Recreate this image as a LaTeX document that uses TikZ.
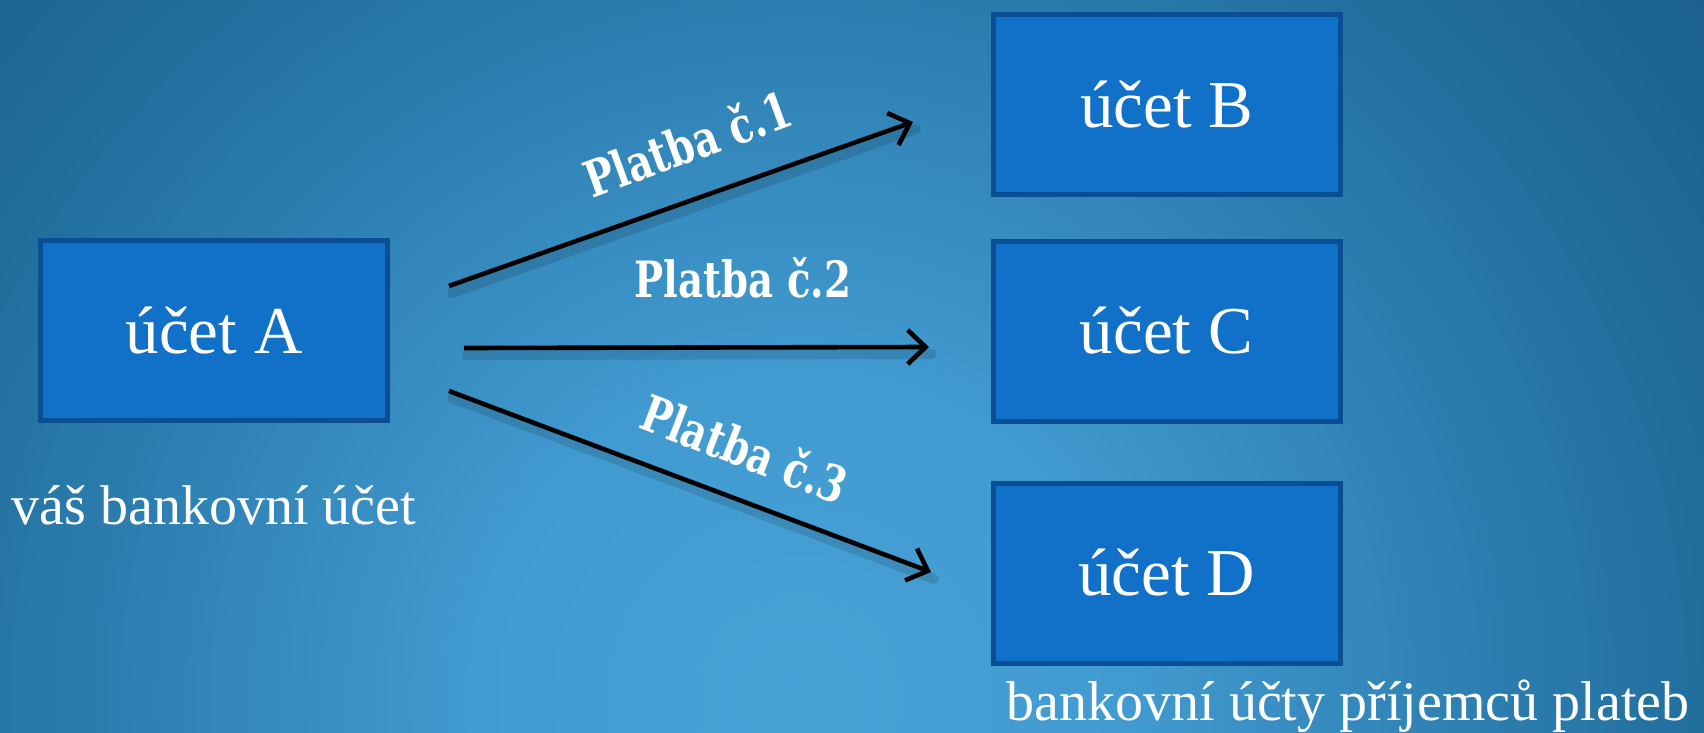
\documentclass[tikz,border=0pt]{standalone}
\usepackage{fontspec}
\setmainfont{Liberation Serif}
\newfontfamily\platfont[FakeStretch=0.86]{DejaVu Serif Condensed}
\usetikzlibrary{arrows.meta}
\definecolor{bgA}{HTML}{48A2D6}
\definecolor{bgB}{HTML}{419AD0}
\definecolor{bgC}{HTML}{2E80B2}
\definecolor{bgD}{HTML}{22709F}
\definecolor{bgE}{HTML}{1C6290}
\definecolor{bgF}{HTML}{1A5C88}
\definecolor{boxfill}{HTML}{1170C8}
\definecolor{boxline}{HTML}{0A4F94}
\pgfdeclareradialshading{bgshade}{\pgfpoint{0bp}{0bp}}{color(0bp)=(bgA); color(6.35bp)=(bgB); color(12.7bp)=(bgC); color(16.9bp)=(bgD); color(21.15bp)=(bgE); color(25bp)=(bgF); color(50bp)=(bgF)}
\tikzset{
  acct/.style={draw=boxline, fill=boxfill, line width=2.5pt, minimum width=173.5pt, minimum height=90pt, text=white, font=\fontsize{33.5}{40}\selectfont, inner sep=0pt},
  caption/.style={text=white, font=\fontsize{28}{34}\selectfont, inner sep=0pt, anchor=base},
  paylabel/.style={text=white, font=\platfont\bfseries\fontsize{25}{30}\selectfont, inner sep=0pt},
  payarrow/.style={draw=black, line width=2.3pt, -{Straight Barb[length=9pt,width=17pt,line width=2.3pt]}},
  payshadow/.style={draw=black, line width=5pt, opacity=0.12, line cap=round}
}
\begin{document}
\begin{tikzpicture}[x=0.5pt,y=-0.5pt]
\useasboundingbox (0,0) rectangle (1704,733);
\begin{scope}
\clip (0,0) rectangle (1704,733);
\fill[bgF] (0,0) rectangle (1704,733);
\shade[shading=bgshade] (800,700) circle (1300);
\end{scope}

\node[acct] (A) at (214,330.5) {účet A};
\node[acct] (B) at (1167,104.5) {účet B};
\node[acct] (C) at (1166.5,331) {účet C};
\node[acct] (D) at (1166.5,573) {účet D};

\node[caption] (capA) at (214,524) {váš bankovní účet};
\node[caption] (capR) at (1348,720) {bankovní účty příjemců plateb};

\coordinate (s1) at (449,286);
\coordinate (e1) at (913,122);
\coordinate (s2) at (464,348);
\coordinate (e2) at (929,347);
\coordinate (s3) at (449,391);
\coordinate (e3) at (931,572);

\draw[payshadow] ([shift={(3,7)}]s1) -- ([shift={(3,7)}]e1);
\draw[payshadow] ([shift={(3,7)}]s2) -- ([shift={(3,7)}]e2);
\draw[payshadow] ([shift={(3,7)}]s3) -- ([shift={(3,7)}]e3);

\draw[payarrow] (s1) -- (e1);
\draw[payarrow] (s2) -- (e2);
\draw[payarrow] (s3) -- (e3);

\node[paylabel, rotate=20] (p1) at (687,143) {Platba č.1};
\node[paylabel] (p2) at (743,278) {Platba č.2};
\node[paylabel, rotate=-21] (p3) at (745,448) {Platba č.3};
\end{tikzpicture}
\end{document}
